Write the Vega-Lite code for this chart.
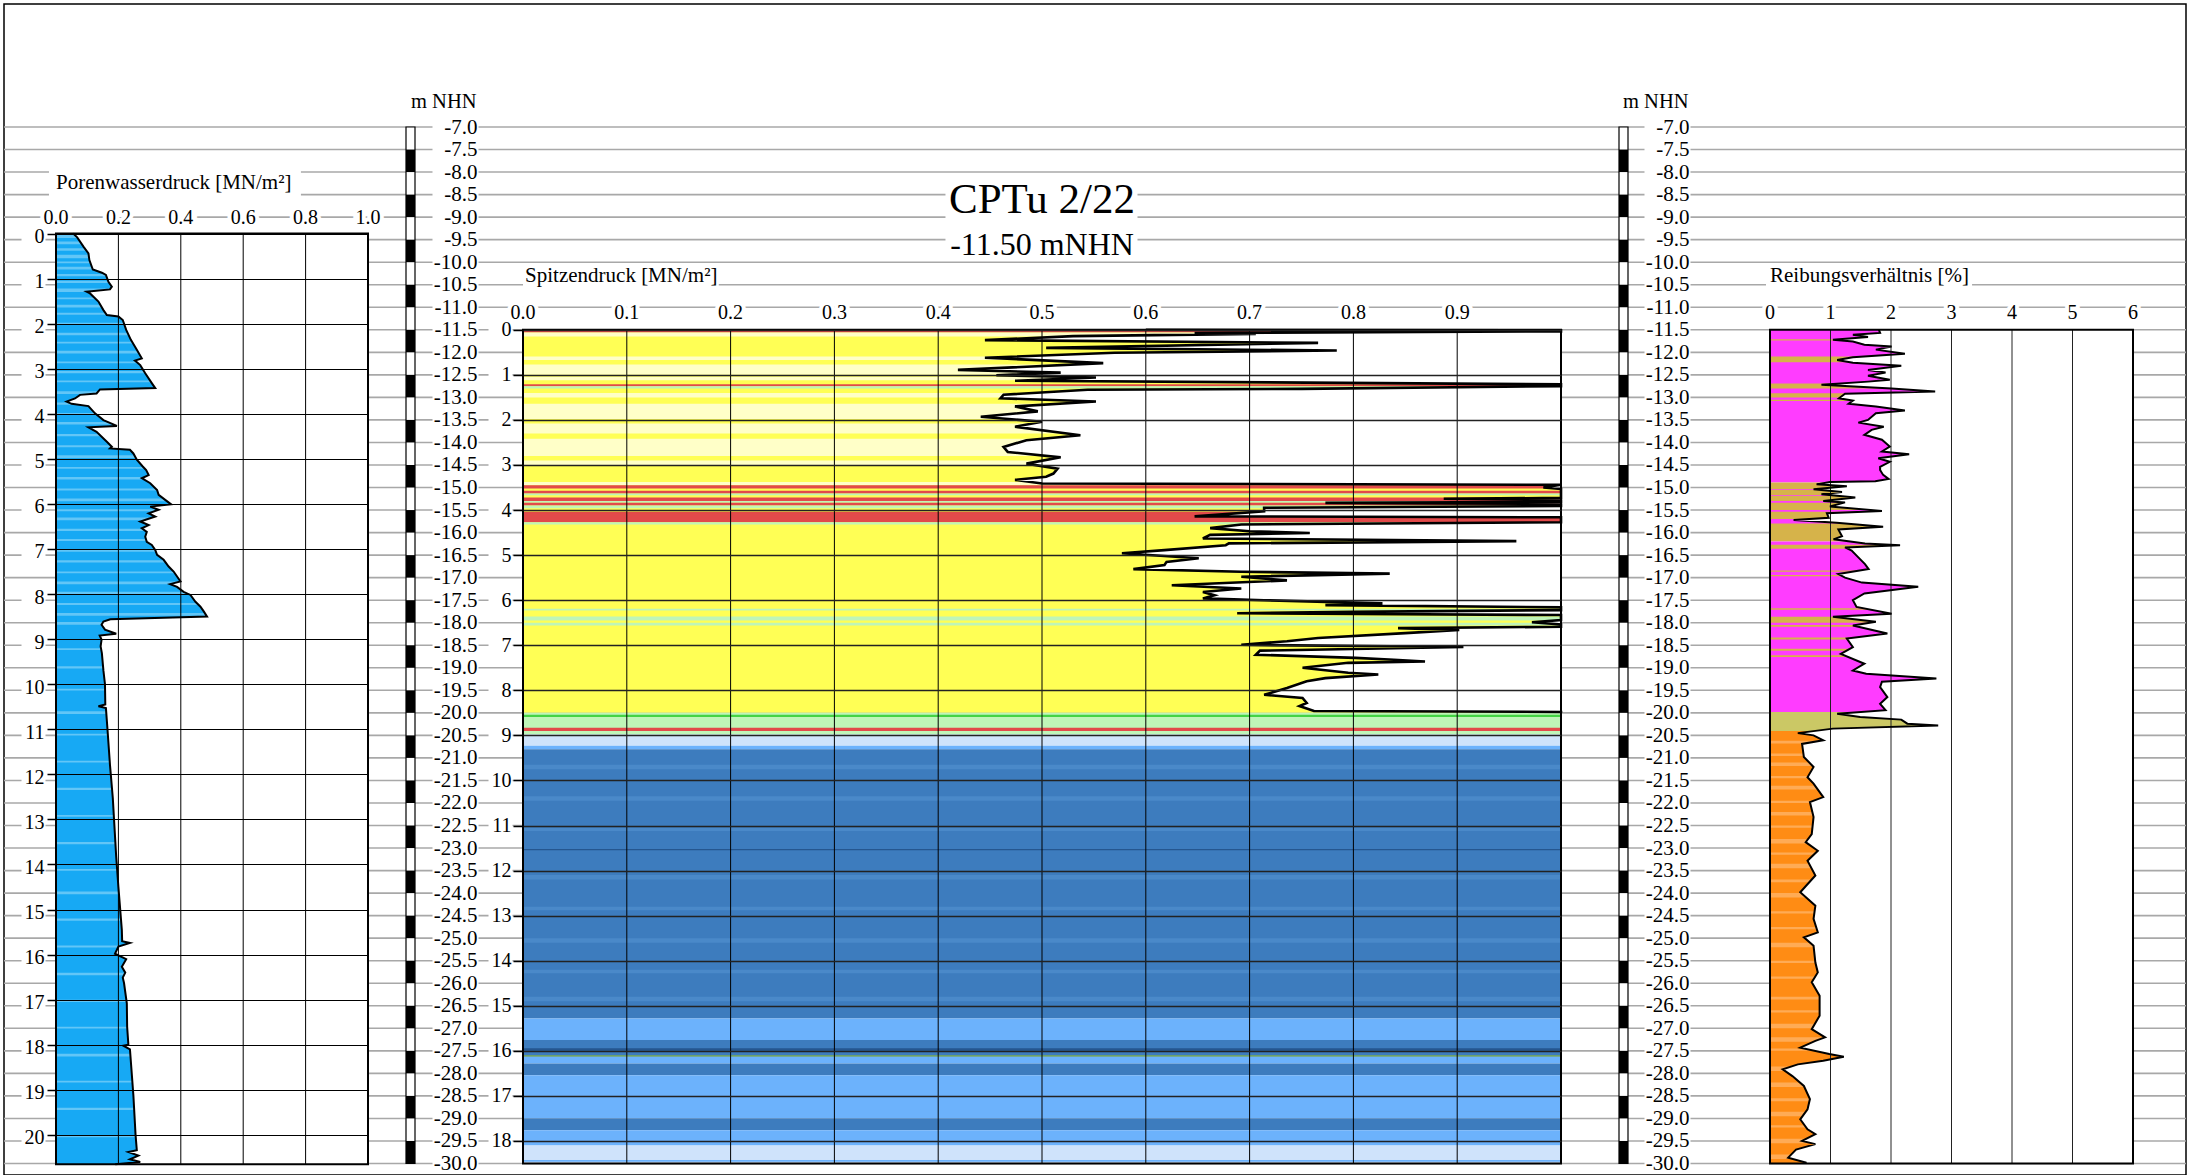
{
  "$schema": "https://vega.github.io/schema/vega-lite/v6.json",
  "width": 2182,
  "height": 1171,
  "autosize": "none",
  "padding": {"left": 4, "top": 4, "right": 4, "bottom": 0},
  "background": "white",
  "config": {
    "view": {"stroke": "black", "strokeWidth": 1.5},
    "font": "Liberation Serif",
    "axis": {"labelColor": "black", "titleColor": "black", "titleFontWeight": "normal", "labelFlush": false, "labelOverlap": false, "labelBound": false, "grid": false, "domain": false, "labelFont": "Liberation Serif", "titleFont": "Liberation Serif"}
  },
  "datasets": {
    "nhn_lines": [{"nhn":-7},{"nhn":-7.5},{"nhn":-8},{"nhn":-8.5},{"nhn":-9},{"nhn":-9.5},{"nhn":-10},{"nhn":-10.5},{"nhn":-11},{"nhn":-11.5},{"nhn":-12},{"nhn":-12.5},{"nhn":-13},{"nhn":-13.5},{"nhn":-14},{"nhn":-14.5},{"nhn":-15},{"nhn":-15.5},{"nhn":-16},{"nhn":-16.5},{"nhn":-17},{"nhn":-17.5},{"nhn":-18},{"nhn":-18.5},{"nhn":-19},{"nhn":-19.5},{"nhn":-20},{"nhn":-20.5},{"nhn":-21},{"nhn":-21.5},{"nhn":-22},{"nhn":-22.5},{"nhn":-23},{"nhn":-23.5},{"nhn":-24},{"nhn":-24.5},{"nhn":-25},{"nhn":-25.5},{"nhn":-26},{"nhn":-26.5},{"nhn":-27},{"nhn":-27.5},{"nhn":-28},{"nhn":-28.5},{"nhn":-29},{"nhn":-29.5},{"nhn":-30}],
    "scale_bar": [{"top":-7.5,"bottom":-8},{"top":-8.5,"bottom":-9},{"top":-9.5,"bottom":-10},{"top":-10.5,"bottom":-11},{"top":-11.5,"bottom":-12},{"top":-12.5,"bottom":-13},{"top":-13.5,"bottom":-14},{"top":-14.5,"bottom":-15},{"top":-15.5,"bottom":-16},{"top":-16.5,"bottom":-17},{"top":-17.5,"bottom":-18},{"top":-18.5,"bottom":-19},{"top":-19.5,"bottom":-20},{"top":-20.5,"bottom":-21},{"top":-21.5,"bottom":-22},{"top":-22.5,"bottom":-23},{"top":-23.5,"bottom":-24},{"top":-24.5,"bottom":-25},{"top":-25.5,"bottom":-26},{"top":-26.5,"bottom":-27},{"top":-27.5,"bottom":-28},{"top":-28.5,"bottom":-29},{"top":-29.5,"bottom":-30}],
    "lx_ticks": [{"v":0},{"v":0.2},{"v":0.4},{"v":0.6},{"v":0.8},{"v":1}],
    "mx_ticks": [{"v":0},{"v":0.1},{"v":0.2},{"v":0.3},{"v":0.4},{"v":0.5},{"v":0.6},{"v":0.7},{"v":0.8},{"v":0.9}],
    "rx_ticks": [{"v":0},{"v":1},{"v":2},{"v":3},{"v":4},{"v":5},{"v":6}],
    "left_bands": [{"top":0,"bottom":20.65,"cls":"B"},
      {"top":0.02,"bottom":0.1,"cls":"H"},{"top":0.18,"bottom":0.24,"cls":"H"},{"top":0.33,"bottom":0.38,"cls":"H"},{"top":0.47,"bottom":0.55,"cls":"H"},{"top":0.62,"bottom":0.66,"cls":"H"},{"top":0.74,"bottom":0.8,"cls":"H"},{"top":0.9,"bottom":0.95,"cls":"H"},{"top":1.05,"bottom":1.1,"cls":"H"},{"top":1.22,"bottom":1.3,"cls":"H"},{"top":1.42,"bottom":1.46,"cls":"H"},{"top":1.58,"bottom":1.64,"cls":"H"},{"top":1.76,"bottom":1.8,"cls":"H"},{"top":1.98,"bottom":2.03,"cls":"H"},{"top":2.2,"bottom":2.26,"cls":"H"},{"top":2.4,"bottom":2.44,"cls":"H"},{"top":2.6,"bottom":2.66,"cls":"H"},{"top":2.84,"bottom":2.88,"cls":"H"},{"top":3.05,"bottom":3.1,"cls":"H"},{"top":3.26,"bottom":3.3,"cls":"H"},{"top":3.5,"bottom":3.56,"cls":"H"},{"top":3.75,"bottom":3.8,"cls":"H"},{"top":3.98,"bottom":4.02,"cls":"H"},{"top":4.18,"bottom":4.24,"cls":"H"},{"top":4.45,"bottom":4.5,"cls":"H"},{"top":4.7,"bottom":4.74,"cls":"H"},{"top":4.92,"bottom":4.98,"cls":"H"},{"top":5.18,"bottom":5.22,"cls":"H"},{"top":5.4,"bottom":5.46,"cls":"H"},{"top":5.66,"bottom":5.7,"cls":"H"},{"top":5.88,"bottom":5.94,"cls":"H"},{"top":6.12,"bottom":6.16,"cls":"H"},{"top":6.3,"bottom":6.36,"cls":"H"},{"top":6.55,"bottom":6.6,"cls":"H"},{"top":6.78,"bottom":6.82,"cls":"H"},{"top":7.0,"bottom":7.06,"cls":"H"},{"top":7.25,"bottom":7.3,"cls":"H"},{"top":7.5,"bottom":7.54,"cls":"H"},{"top":7.72,"bottom":7.78,"cls":"H"},{"top":7.95,"bottom":8.0,"cls":"H"},{"top":8.2,"bottom":8.24,"cls":"H"},{"top":8.42,"bottom":8.48,"cls":"H"},{"top":8.62,"bottom":8.68,"cls":"H"},{"top":9.2,"bottom":9.24,"cls":"H"},{"top":9.6,"bottom":9.65,"cls":"H"},{"top":10.1,"bottom":10.14,"cls":"H"},{"top":10.6,"bottom":10.66,"cls":"H"},{"top":11.1,"bottom":11.14,"cls":"H"},{"top":11.7,"bottom":11.74,"cls":"H"},{"top":12.3,"bottom":12.35,"cls":"H"},{"top":12.9,"bottom":12.94,"cls":"H"},{"top":13.5,"bottom":13.55,"cls":"H"},{"top":14.1,"bottom":14.14,"cls":"H"},{"top":14.6,"bottom":14.66,"cls":"H"},{"top":15.2,"bottom":15.25,"cls":"H"},{"top":15.8,"bottom":15.84,"cls":"H"},{"top":16.4,"bottom":16.46,"cls":"H"},{"top":17.0,"bottom":17.05,"cls":"H"},{"top":17.6,"bottom":17.64,"cls":"H"},{"top":18.2,"bottom":18.26,"cls":"H"},{"top":18.8,"bottom":18.84,"cls":"H"},{"top":19.4,"bottom":19.45,"cls":"H"},{"top":20.0,"bottom":20.05,"cls":"H"}],
    "left_u": [{"d":0,"u":0.055},{"d":0.085,"u":0.068},{"d":0.29,"u":0.088},{"d":0.44,"u":0.104},{"d":0.59,"u":0.107},{"d":0.8,"u":0.118},{"d":0.87,"u":0.147},{"d":0.92,"u":0.16},{"d":1.07,"u":0.168},{"d":1.18,"u":0.179},{"d":1.24,"u":0.173},{"d":1.29,"u":0.098},{"d":1.33,"u":0.109},{"d":1.51,"u":0.136},{"d":1.7,"u":0.152},{"d":1.81,"u":0.163},{"d":1.84,"u":0.2},{"d":1.92,"u":0.214},{"d":2.14,"u":0.225},{"d":2.36,"u":0.24},{"d":2.58,"u":0.259},{"d":2.77,"u":0.275},{"d":2.82,"u":0.253},{"d":2.92,"u":0.27},{"d":3.1,"u":0.286},{"d":3.32,"u":0.307},{"d":3.43,"u":0.318},{"d":3.46,"u":0.141},{"d":3.55,"u":0.13},{"d":3.58,"u":0.077},{"d":3.66,"u":0.061},{"d":3.73,"u":0.034},{"d":3.78,"u":0.05},{"d":3.83,"u":0.104},{"d":3.99,"u":0.125},{"d":4.14,"u":0.152},{"d":4.27,"u":0.195},{"d":4.3,"u":0.104},{"d":4.4,"u":0.13},{"d":4.62,"u":0.163},{"d":4.73,"u":0.179},{"d":4.77,"u":0.173},{"d":4.8,"u":0.237},{"d":4.88,"u":0.248},{"d":5.02,"u":0.259},{"d":5.17,"u":0.278},{"d":5.25,"u":0.289},{"d":5.36,"u":0.297},{"d":5.43,"u":0.275},{"d":5.54,"u":0.302},{"d":5.69,"u":0.324},{"d":5.8,"u":0.329},{"d":5.91,"u":0.35},{"d":6.01,"u":0.369},{"d":6.06,"u":0.302},{"d":6.13,"u":0.329},{"d":6.21,"u":0.297},{"d":6.28,"u":0.318},{"d":6.39,"u":0.27},{"d":6.47,"u":0.297},{"d":6.54,"u":0.275},{"d":6.62,"u":0.291},{"d":6.73,"u":0.286},{"d":6.84,"u":0.291},{"d":6.91,"u":0.307},{"d":7.02,"u":0.318},{"d":7.13,"u":0.324},{"d":7.24,"u":0.345},{"d":7.39,"u":0.361},{"d":7.5,"u":0.377},{"d":7.61,"u":0.388},{"d":7.72,"u":0.399},{"d":7.78,"u":0.366},{"d":7.84,"u":0.388},{"d":7.95,"u":0.409},{"d":8.02,"u":0.431},{"d":8.17,"u":0.447},{"d":8.28,"u":0.463},{"d":8.39,"u":0.474},{"d":8.5,"u":0.484},{"d":8.56,"u":0.174},{"d":8.61,"u":0.152},{"d":8.68,"u":0.146},{"d":8.79,"u":0.157},{"d":8.88,"u":0.193},{"d":8.92,"u":0.14},{"d":9.01,"u":0.146},{"d":9.16,"u":0.143},{"d":9.31,"u":0.147},{"d":9.7,"u":0.152},{"d":10.0,"u":0.157},{"d":10.45,"u":0.158},{"d":10.49,"u":0.136},{"d":10.53,"u":0.16},{"d":11.0,"u":0.165},{"d":11.79,"u":0.173},{"d":12.52,"u":0.182},{"d":13.0,"u":0.186},{"d":13.83,"u":0.193},{"d":14.5,"u":0.2},{"d":15.45,"u":0.211},{"d":15.7,"u":0.212},{"d":15.74,"u":0.237},{"d":15.82,"u":0.2},{"d":15.98,"u":0.189},{"d":16.1,"u":0.225},{"d":16.27,"u":0.211},{"d":16.4,"u":0.222},{"d":16.51,"u":0.214},{"d":16.63,"u":0.218},{"d":17.08,"u":0.227},{"d":17.6,"u":0.228},{"d":18.0,"u":0.232},{"d":18.02,"u":0.216},{"d":18.1,"u":0.237},{"d":19.12,"u":0.248},{"d":20.0,"u":0.255},{"d":20.34,"u":0.259},{"d":20.38,"u":0.232},{"d":20.46,"u":0.264},{"d":20.54,"u":0.237},{"d":20.6,"u":0.27},{"d":20.65,"u":0.19}],
    "mid_bands": [{"top":-11.5,"bottom":-20.0,"cls":"Y"},{"top":-20.0,"bottom":-20.48,"cls":"LG"},{"top":-20.48,"bottom":-20.73,"cls":"LB"},{"top":-20.73,"bottom":-20.81,"cls":"MB"},{"top":-20.81,"bottom":-26.78,"cls":"DB"},{"top":-26.78,"bottom":-27.26,"cls":"MB"},{"top":-27.26,"bottom":-27.6,"cls":"DB"},{"top":-27.6,"bottom":-27.63,"cls":"G2"},{"top":-27.63,"bottom":-27.78,"cls":"MB"},{"top":-27.78,"bottom":-28.04,"cls":"DB"},{"top":-28.04,"bottom":-29.0,"cls":"MB"},{"top":-29.0,"bottom":-29.26,"cls":"DB"},{"top":-29.26,"bottom":-29.6,"cls":"MB"},{"top":-29.6,"bottom":-30.0,"cls":"LB"},
      {"top":-11.5,"bottom":-11.56,"cls":"R"},{"top":-11.56,"bottom":-11.65,"cls":"LY"},{"top":-12.09,"bottom":-12.17,"cls":"LY"},{"top":-12.27,"bottom":-12.5,"cls":"LY"},{"top":-12.54,"bottom":-12.62,"cls":"LY"},{"top":-12.71,"bottom":-12.75,"cls":"R"},{"top":-12.75,"bottom":-12.8,"cls":"LG"},{"top":-12.9,"bottom":-13.0,"cls":"LY"},{"top":-13.14,"bottom":-13.48,"cls":"LY"},{"top":-13.58,"bottom":-13.8,"cls":"LY"},{"top":-13.92,"bottom":-14.3,"cls":"LY"},{"top":-14.4,"bottom":-14.52,"cls":"LY"},{"top":-14.88,"bottom":-14.95,"cls":"LY"},{"top":-14.95,"bottom":-15.02,"cls":"R"},{"top":-15.07,"bottom":-15.13,"cls":"R"},{"top":-15.13,"bottom":-15.17,"cls":"LG"},{"top":-15.22,"bottom":-15.3,"cls":"R"},{"top":-15.3,"bottom":-15.34,"cls":"LG"},{"top":-15.34,"bottom":-15.4,"cls":"R"},{"top":-15.4,"bottom":-15.46,"cls":"LG"},{"top":-15.54,"bottom":-15.77,"cls":"R"},{"top":-15.77,"bottom":-15.82,"cls":"LG"},{"top":-17.69,"bottom":-17.73,"cls":"LG"},{"top":-17.86,"bottom":-17.95,"cls":"LG"},{"top":-18.0,"bottom":-18.06,"cls":"LG"},{"top":-20.04,"bottom":-20.09,"cls":"G"},{"top":-20.33,"bottom":-20.4,"cls":"R"},{"top":-23.02,"bottom":-23.05,"cls":"NB"},{"top":-27.44,"bottom":-27.5,"cls":"NB"},{"top":-21.15,"bottom":-21.25,"cls":"DB2"},{"top":-21.85,"bottom":-21.95,"cls":"DB2"},{"top":-22.55,"bottom":-22.62,"cls":"DB2"},{"top":-23.6,"bottom":-23.7,"cls":"DB2"},{"top":-24.3,"bottom":-24.38,"cls":"DB2"},{"top":-25.0,"bottom":-25.1,"cls":"DB2"},{"top":-25.7,"bottom":-25.78,"cls":"DB2"},{"top":-26.3,"bottom":-26.4,"cls":"DB2"},{"top":-29.92,"bottom":-29.96,"cls":"MB"}],
    "qc": [{"nhn":-11.5,"qc":0.6},{"nhn":-11.51,"qc":1.2},{"nhn":-11.535,"qc":1.2},{"nhn":-11.57,"qc":0.647},{"nhn":-11.59,"qc":0.706},{"nhn":-11.64,"qc":0.53},{"nhn":-11.73,"qc":0.445},{"nhn":-11.79,"qc":0.766},{"nhn":-11.9,"qc":0.504},{"nhn":-11.96,"qc":0.784},{"nhn":-12.01,"qc":0.57},{"nhn":-12.12,"qc":0.445},{"nhn":-12.24,"qc":0.559},{"nhn":-12.39,"qc":0.419},{"nhn":-12.45,"qc":0.518},{"nhn":-12.51,"qc":0.456},{"nhn":-12.56,"qc":0.552},{"nhn":-12.63,"qc":0.474},{"nhn":-12.71,"qc":1.2},{"nhn":-12.75,"qc":1.2},{"nhn":-12.81,"qc":0.75},{"nhn":-12.83,"qc":0.544},{"nhn":-12.94,"qc":0.463},{"nhn":-13.02,"qc":0.46},{"nhn":-13.09,"qc":0.552},{"nhn":-13.2,"qc":0.474},{"nhn":-13.31,"qc":0.496},{"nhn":-13.43,"qc":0.441},{"nhn":-13.54,"qc":0.5},{"nhn":-13.65,"qc":0.474},{"nhn":-13.84,"qc":0.537},{"nhn":-13.95,"qc":0.485},{"nhn":-14.1,"qc":0.463},{"nhn":-14.21,"qc":0.467},{"nhn":-14.33,"qc":0.518},{"nhn":-14.47,"qc":0.485},{"nhn":-14.58,"qc":0.515},{"nhn":-14.69,"qc":0.511},{"nhn":-14.76,"qc":0.504},{"nhn":-14.83,"qc":0.474},{"nhn":-14.91,"qc":0.5},{"nhn":-14.94,"qc":1.2},{"nhn":-15.0,"qc":0.983},{"nhn":-15.03,"qc":1.2},{"nhn":-15.23,"qc":1.2},{"nhn":-15.25,"qc":0.887},{"nhn":-15.27,"qc":1.2},{"nhn":-15.32,"qc":1.2},{"nhn":-15.34,"qc":0.773},{"nhn":-15.36,"qc":1.2},{"nhn":-15.41,"qc":1.2},{"nhn":-15.45,"qc":0.714},{"nhn":-15.53,"qc":0.714},{"nhn":-15.64,"qc":0.647},{"nhn":-15.66,"qc":1.2},{"nhn":-15.77,"qc":1.2},{"nhn":-15.82,"qc":0.692},{"nhn":-15.9,"qc":0.662},{"nhn":-15.97,"qc":0.7},{"nhn":-16.01,"qc":0.758},{"nhn":-16.05,"qc":0.662},{"nhn":-16.13,"qc":0.655},{"nhn":-16.19,"qc":0.957},{"nhn":-16.24,"qc":0.68},{"nhn":-16.28,"qc":0.677},{"nhn":-16.39,"qc":0.618},{"nhn":-16.46,"qc":0.577},{"nhn":-16.57,"qc":0.651},{"nhn":-16.65,"qc":0.62},{"nhn":-16.72,"qc":0.618},{"nhn":-16.81,"qc":0.588},{"nhn":-16.87,"qc":0.692},{"nhn":-16.91,"qc":0.835},{"nhn":-16.98,"qc":0.692},{"nhn":-17.06,"qc":0.736},{"nhn":-17.17,"qc":0.625},{"nhn":-17.24,"qc":0.692},{"nhn":-17.32,"qc":0.655},{"nhn":-17.39,"qc":0.666},{"nhn":-17.46,"qc":0.655},{"nhn":-17.5,"qc":0.714},{"nhn":-17.57,"qc":0.828},{"nhn":-17.61,"qc":0.773},{"nhn":-17.66,"qc":1.2},{"nhn":-17.72,"qc":1.2},{"nhn":-17.76,"qc":0.8},{"nhn":-17.79,"qc":0.688},{"nhn":-17.83,"qc":1.2},{"nhn":-17.94,"qc":1.2},{"nhn":-17.99,"qc":0.972},{"nhn":-18.04,"qc":1.2},{"nhn":-18.09,"qc":1.2},{"nhn":-18.12,"qc":0.843},{"nhn":-18.16,"qc":0.902},{"nhn":-18.23,"qc":0.85},{"nhn":-18.34,"qc":0.766},{"nhn":-18.41,"qc":0.736},{"nhn":-18.49,"qc":0.692},{"nhn":-18.54,"qc":0.906},{"nhn":-18.62,"qc":0.71},{"nhn":-18.71,"qc":0.706},{"nhn":-18.78,"qc":0.802},{"nhn":-18.82,"qc":0.839},{"nhn":-18.86,"qc":0.869},{"nhn":-18.89,"qc":0.795},{"nhn":-19.0,"qc":0.751},{"nhn":-19.11,"qc":0.795},{"nhn":-19.15,"qc":0.824},{"nhn":-19.23,"qc":0.773},{"nhn":-19.3,"qc":0.755},{"nhn":-19.45,"qc":0.736},{"nhn":-19.6,"qc":0.714},{"nhn":-19.67,"qc":0.751},{"nhn":-19.78,"qc":0.755},{"nhn":-19.85,"qc":0.748},{"nhn":-19.96,"qc":0.762},{"nhn":-19.98,"qc":1.2},{"nhn":-20.0,"qc":1.2}],
    "right_bands": [{"top":-11.5,"bottom":-14.89,"cls":"M"},{"top":-14.89,"bottom":-16.2,"cls":"GO"},{"top":-16.2,"bottom":-19.98,"cls":"M"},{"top":-19.98,"bottom":-20.4,"cls":"OL"},{"top":-20.4,"bottom":-30.0,"cls":"OR"},
      {"top":-11.71,"bottom":-11.74,"cls":"GO"},{"top":-12.09,"bottom":-12.22,"cls":"GO"},{"top":-12.69,"bottom":-12.8,"cls":"GO"},{"top":-12.91,"bottom":-13.0,"cls":"GO"},{"top":-13.05,"bottom":-13.08,"cls":"GO"},
      {"top":-15.03,"bottom":-15.05,"cls":"M"},{"top":-15.17,"bottom":-15.19,"cls":"M"},{"top":-15.3,"bottom":-15.34,"cls":"M"},{"top":-15.5,"bottom":-15.54,"cls":"M"},{"top":-15.7,"bottom":-15.8,"cls":"M"},
      {"top":-16.27,"bottom":-16.36,"cls":"GO"},{"top":-16.84,"bottom":-16.87,"cls":"GO"},{"top":-16.94,"bottom":-16.97,"cls":"GO"},{"top":-17.68,"bottom":-17.71,"cls":"GO"},{"top":-17.87,"bottom":-18.0,"cls":"GO"},{"top":-18.05,"bottom":-18.09,"cls":"GO"},{"top":-18.33,"bottom":-18.37,"cls":"GO"},{"top":-18.58,"bottom":-18.62,"cls":"GO"},{"top":-18.72,"bottom":-18.76,"cls":"GO"},
      {"top":-20.62,"bottom":-20.68,"cls":"LO"},{"top":-20.9,"bottom":-20.96,"cls":"LO"},{"top":-21.1,"bottom":-21.18,"cls":"LO"},{"top":-21.4,"bottom":-21.45,"cls":"LO"},{"top":-21.62,"bottom":-21.7,"cls":"LO"},{"top":-21.95,"bottom":-22.0,"cls":"LO"},{"top":-22.2,"bottom":-22.28,"cls":"LO"},{"top":-22.5,"bottom":-22.55,"cls":"LO"},{"top":-22.8,"bottom":-22.9,"cls":"LO"},{"top":-23.1,"bottom":-23.15,"cls":"LO"},{"top":-23.35,"bottom":-23.45,"cls":"LO"},{"top":-23.7,"bottom":-23.76,"cls":"LO"},{"top":-24.0,"bottom":-24.1,"cls":"LO"},{"top":-24.4,"bottom":-24.45,"cls":"LO"},{"top":-24.75,"bottom":-24.8,"cls":"LO"},{"top":-25.1,"bottom":-25.2,"cls":"LO"},{"top":-25.5,"bottom":-25.55,"cls":"LO"},{"top":-25.85,"bottom":-25.9,"cls":"LO"},{"top":-26.3,"bottom":-26.36,"cls":"LO"},{"top":-26.6,"bottom":-26.65,"cls":"LO"},{"top":-26.9,"bottom":-27.0,"cls":"LO"},{"top":-27.2,"bottom":-27.3,"cls":"LO"},{"top":-27.45,"bottom":-27.5,"cls":"LO"},{"top":-27.85,"bottom":-27.95,"cls":"LO"},{"top":-28.2,"bottom":-28.3,"cls":"LO"},{"top":-28.55,"bottom":-28.62,"cls":"LO"},{"top":-28.85,"bottom":-28.95,"cls":"LO"},{"top":-29.15,"bottom":-29.2,"cls":"LO"},{"top":-29.45,"bottom":-29.55,"cls":"LO"},{"top":-29.8,"bottom":-29.9,"cls":"LO"}],
    "rf": [{"nhn":-11.5,"rf":1.8},{"nhn":-11.57,"rf":1.82},{"nhn":-11.61,"rf":1.37},{"nhn":-11.66,"rf":1.62},{"nhn":-11.72,"rf":1.04},{"nhn":-11.76,"rf":1.37},{"nhn":-11.83,"rf":1.56},{"nhn":-11.87,"rf":2.01},{"nhn":-11.94,"rf":1.75},{"nhn":-12.03,"rf":2.23},{"nhn":-12.11,"rf":1.37},{"nhn":-12.17,"rf":1.11},{"nhn":-12.23,"rf":1.37},{"nhn":-12.3,"rf":2.17},{"nhn":-12.39,"rf":1.62},{"nhn":-12.45,"rf":1.91},{"nhn":-12.52,"rf":1.62},{"nhn":-12.61,"rf":1.98},{"nhn":-12.65,"rf":1.62},{"nhn":-12.72,"rf":0.85},{"nhn":-12.8,"rf":2.01},{"nhn":-12.87,"rf":2.73},{"nhn":-12.92,"rf":1.24},{"nhn":-13.02,"rf":1.14},{"nhn":-13.07,"rf":1.37},{"nhn":-13.14,"rf":1.3},{"nhn":-13.2,"rf":1.75},{"nhn":-13.29,"rf":2.23},{"nhn":-13.35,"rf":1.75},{"nhn":-13.5,"rf":1.62},{"nhn":-13.56,"rf":1.46},{"nhn":-13.65,"rf":1.88},{"nhn":-13.72,"rf":1.68},{"nhn":-13.83,"rf":1.56},{"nhn":-13.94,"rf":1.85},{"nhn":-14.09,"rf":1.98},{"nhn":-14.2,"rf":1.85},{"nhn":-14.26,"rf":2.3},{"nhn":-14.35,"rf":1.79},{"nhn":-14.43,"rf":1.98},{"nhn":-14.54,"rf":1.82},{"nhn":-14.61,"rf":1.82},{"nhn":-14.72,"rf":1.87},{"nhn":-14.81,"rf":1.96},{"nhn":-14.86,"rf":1.74},{"nhn":-14.88,"rf":0.99},{"nhn":-14.93,"rf":0.77},{"nhn":-14.97,"rf":1.27},{"nhn":-15.04,"rf":0.72},{"nhn":-15.1,"rf":1.19},{"nhn":-15.15,"rf":0.85},{"nhn":-15.22,"rf":1.41},{"nhn":-15.3,"rf":0.88},{"nhn":-15.33,"rf":1.24},{"nhn":-15.42,"rf":0.99},{"nhn":-15.52,"rf":1.85},{"nhn":-15.57,"rf":0.94},{"nhn":-15.67,"rf":0.97},{"nhn":-15.72,"rf":0.39},{"nhn":-15.78,"rf":1.1},{"nhn":-15.87,"rf":1.87},{"nhn":-15.93,"rf":1.13},{"nhn":-16.08,"rf":1.19},{"nhn":-16.15,"rf":1.05},{"nhn":-16.24,"rf":1.57},{"nhn":-16.28,"rf":2.15},{"nhn":-16.33,"rf":1.24},{"nhn":-16.4,"rf":1.35},{"nhn":-16.55,"rf":1.46},{"nhn":-16.7,"rf":1.57},{"nhn":-16.81,"rf":1.63},{"nhn":-16.92,"rf":1.13},{"nhn":-17.0,"rf":1.24},{"nhn":-17.11,"rf":1.52},{"nhn":-17.2,"rf":2.45},{"nhn":-17.35,"rf":1.56},{"nhn":-17.5,"rf":1.37},{"nhn":-17.65,"rf":1.43},{"nhn":-17.8,"rf":2.01},{"nhn":-17.87,"rf":1.04},{"nhn":-17.98,"rf":1.75},{"nhn":-18.06,"rf":1.37},{"nhn":-18.24,"rf":1.94},{"nhn":-18.35,"rf":1.27},{"nhn":-18.54,"rf":1.37},{"nhn":-18.69,"rf":1.17},{"nhn":-18.91,"rf":1.56},{"nhn":-19.06,"rf":1.37},{"nhn":-19.13,"rf":1.59},{"nhn":-19.24,"rf":2.75},{"nhn":-19.31,"rf":1.85},{"nhn":-19.43,"rf":1.82},{"nhn":-19.65,"rf":1.94},{"nhn":-19.8,"rf":1.82},{"nhn":-19.94,"rf":1.91},{"nhn":-20.02,"rf":1.11},{"nhn":-20.09,"rf":1.49},{"nhn":-20.15,"rf":2.17},{"nhn":-20.24,"rf":2.27},{"nhn":-20.28,"rf":2.78},{"nhn":-20.35,"rf":1.04},{"nhn":-20.45,"rf":0.46},{"nhn":-20.5,"rf":0.72},{"nhn":-20.61,"rf":0.88},{"nhn":-20.69,"rf":0.53},{"nhn":-20.98,"rf":0.56},{"nhn":-21.2,"rf":0.72},{"nhn":-21.43,"rf":0.62},{"nhn":-21.57,"rf":0.72},{"nhn":-21.87,"rf":0.88},{"nhn":-21.98,"rf":0.66},{"nhn":-22.31,"rf":0.72},{"nhn":-22.69,"rf":0.69},{"nhn":-22.87,"rf":0.59},{"nhn":-23.06,"rf":0.79},{"nhn":-23.28,"rf":0.62},{"nhn":-23.61,"rf":0.75},{"nhn":-23.98,"rf":0.5},{"nhn":-24.28,"rf":0.75},{"nhn":-24.57,"rf":0.72},{"nhn":-24.87,"rf":0.79},{"nhn":-24.98,"rf":0.56},{"nhn":-25.17,"rf":0.72},{"nhn":-25.54,"rf":0.75},{"nhn":-25.76,"rf":0.79},{"nhn":-25.98,"rf":0.69},{"nhn":-26.28,"rf":0.82},{"nhn":-26.72,"rf":0.82},{"nhn":-27.02,"rf":0.69},{"nhn":-27.2,"rf":0.91},{"nhn":-27.28,"rf":0.75},{"nhn":-27.43,"rf":0.5},{"nhn":-27.57,"rf":0.98},{"nhn":-27.63,"rf":1.22},{"nhn":-27.72,"rf":0.88},{"nhn":-27.8,"rf":0.46},{"nhn":-27.91,"rf":0.21},{"nhn":-28.06,"rf":0.37},{"nhn":-28.28,"rf":0.56},{"nhn":-28.57,"rf":0.66},{"nhn":-28.8,"rf":0.62},{"nhn":-29.02,"rf":0.5},{"nhn":-29.24,"rf":0.62},{"nhn":-29.35,"rf":0.75},{"nhn":-29.5,"rf":0.53},{"nhn":-29.57,"rf":0.75},{"nhn":-29.69,"rf":0.43},{"nhn":-29.87,"rf":0.3},{"nhn":-29.98,"rf":0.59},{"nhn":-30.0,"rf":0.59}]
  },
  "layer": [
    {
      "layer": [
        {
          "data": {"name": "nhn_lines"},
          "mark": {"type": "rule", "color": "#a8a8a8", "strokeWidth": 1.6},
          "encoding": {
            "y": {"field": "nhn", "type": "quantitative", "scale": {"domain": [-30, -7], "range": [1159.5, 123], "nice": false, "zero": false},
              "axis": {"orient": "left", "offset": -474, "values": [-7,-7.5,-8,-8.5,-9,-9.5,-10,-10.5,-11,-11.5,-12,-12.5,-13,-13.5,-14,-14.5,-15,-15.5,-16,-16.5,-17,-17.5,-18,-18.5,-19,-19.5,-20,-20.5,-21,-21.5,-22,-22.5,-23,-23.5,-24,-24.5,-25,-25.5,-26,-26.5,-27,-27.5,-28,-28.5,-29,-29.5,-30],
                "labelExpr": "replace(format(datum.value, '.1f'), '−', '-')", "domain": false, "grid": false, "ticks": true, "tickColor": "white", "tickSize": 46, "tickWidth": 18, "labelPadding": -45, "labelFontSize": 21, "labelAlign": "right", "labelBaseline": "middle",
                "title": "m NHN", "titleX": -2, "titleY": 103, "titleAngle": 0, "titleAlign": "right", "titleBaseline": "alphabetic", "titleFontSize": 20.5, "zindex": 1}}
          }
        },
        {
          "data": {"values": [{}]},
          "mark": {"type": "rect", "fill": "white", "stroke": "black", "strokeWidth": 1.2},
          "encoding": {
            "x": {"datum": 0, "type": "quantitative", "scale": {"domain": [0, 1], "range": [402, 411]}, "axis": null},
            "x2": {"datum": 1},
            "y": {"datum": -7, "type": "quantitative", "scale": {"domain": [-30, -7], "range": [1159.5, 123], "nice": false, "zero": false}, "axis": null},
            "y2": {"datum": -30}
          }
        },
        {
          "data": {"name": "scale_bar"},
          "mark": {"type": "rect", "fill": "black"},
          "encoding": {
            "x": {"datum": 0, "type": "quantitative", "scale": {"domain": [0, 1], "range": [402, 411]}, "axis": null},
            "x2": {"datum": 1},
            "y": {"field": "top", "type": "quantitative", "scale": {"domain": [-30, -7], "range": [1159.5, 123], "nice": false, "zero": false}, "axis": null},
            "y2": {"field": "bottom"}
          }
        },
        {
          "data": {"values": [{}]},
          "mark": {"type": "rect", "fill": "white", "stroke": "black", "strokeWidth": 1.2},
          "encoding": {
            "x": {"datum": 0, "type": "quantitative", "scale": {"domain": [0, 1], "range": [1615, 1624]}, "axis": null},
            "x2": {"datum": 1},
            "y": {"datum": -7, "type": "quantitative", "scale": {"domain": [-30, -7], "range": [1159.5, 123], "nice": false, "zero": false}, "axis": null},
            "y2": {"datum": -30}
          }
        },
        {
          "data": {"name": "scale_bar"},
          "mark": {"type": "rect", "fill": "black"},
          "encoding": {
            "x": {"datum": 0, "type": "quantitative", "scale": {"domain": [0, 1], "range": [1615, 1624]}, "axis": null},
            "x2": {"datum": 1},
            "y": {"field": "top", "type": "quantitative", "scale": {"domain": [-30, -7], "range": [1159.5, 123], "nice": false, "zero": false},
              "axis": {"orient": "left", "offset": -1686, "values": [-7,-7.5,-8,-8.5,-9,-9.5,-10,-10.5,-11,-11.5,-12,-12.5,-13,-13.5,-14,-14.5,-15,-15.5,-16,-16.5,-17,-17.5,-18,-18.5,-19,-19.5,-20,-20.5,-21,-21.5,-22,-22.5,-23,-23.5,-24,-24.5,-25,-25.5,-26,-26.5,-27,-27.5,-28,-28.5,-29,-29.5,-30],
                "labelExpr": "replace(format(datum.value, '.1f'), '−', '-')", "domain": false, "grid": false, "ticks": true, "tickColor": "white", "tickSize": 46, "tickWidth": 18, "labelPadding": -45, "labelFontSize": 21, "labelAlign": "right", "labelBaseline": "middle",
                "title": "m NHN", "titleX": -2, "titleY": 103, "titleAngle": 0, "titleAlign": "right", "titleBaseline": "alphabetic", "titleFontSize": 20.5, "zindex": 1}},
            "y2": {"field": "bottom"}
          }
        }
      ],
      "resolve": {"scale": {"x": "independent"}, "axis": {"y": "independent"}}
    },
    {
      "layer": [
        {
          "data": {"name": "left_bands"},
          "mark": {"type": "rect"},
          "encoding": {
            "x": {"datum": 0, "type": "quantitative", "scale": {"domain": [0, 1], "range": [52, 364], "nice": false, "zero": false}, "axis": null},
            "x2": {"datum": 1},
            "y": {"field": "top", "type": "quantitative", "scale": {"domain": [0, 20.65], "range": [229.5, 1160.2], "nice": false, "zero": false},
              "axis": {"orient": "left", "offset": -41, "values": [0,1,2,3,4,5,6,7,8,9,10,11,12,13,14,15,16,17,18,19,20], "format": "d", "domain": false, "ticks": true, "tickColor": "white", "tickSize": 24, "tickWidth": 20, "labelPadding": -23, "labelOffset": 3, "labelFontSize": 20, "labelAlign": "right", "labelBaseline": "middle", "grid": false, "title": null, "zindex": 1}},
            "y2": {"field": "bottom"},
            "color": {"field": "cls", "type": "nominal", "scale": {"domain": ["B", "H"], "range": ["#17a9f4", "#62c6f7"]}, "legend": null}
          }
        },
        {
          "data": {"name": "left_u"},
          "mark": {"type": "area", "orient": "horizontal", "fill": "white", "opacity": 1},
          "encoding": {
            "y": {"field": "d", "type": "quantitative", "scale": {"domain": [0, 20.65], "range": [229.5, 1160.2], "nice": false, "zero": false}, "axis": null},
            "x": {"field": "u", "type": "quantitative", "scale": {"domain": [0, 1], "range": [52, 364], "nice": false, "zero": false}, "axis": null},
            "x2": {"datum": 1}
          }
        },
        {
          "data": {"name": "lx_ticks"},
          "mark": {"type": "rule", "color": "black", "strokeWidth": 1},
          "encoding": {
            "x": {"field": "v", "type": "quantitative", "scale": {"domain": [0, 1], "range": [52, 364], "nice": false, "zero": false}, "axis": null},
            "y": {"datum": 0, "type": "quantitative", "scale": {"domain": [0, 20.65], "range": [229.5, 1160.2], "nice": false, "zero": false}, "axis": null},
            "y2": {"datum": 20.65}
          }
        },
        {
          "data": {"name": "left_u"},
          "mark": {"type": "line", "color": "black", "strokeWidth": 2},
          "encoding": {
            "y": {"field": "d", "type": "quantitative", "scale": {"domain": [0, 20.65], "range": [229.5, 1160.2], "nice": false, "zero": false}, "axis": null},
            "x": {"field": "u", "type": "quantitative", "scale": {"domain": [0, 1], "range": [52, 364], "nice": false, "zero": false}, "axis": null},
            "order": {"value": null}
          }
        },
        {
          "data": {"values": [{}]},
          "mark": {"type": "rect", "fill": "white"},
          "encoding": {
            "x": {"datum": -0.0225, "type": "quantitative", "scale": {"domain": [0, 1], "range": [52, 364], "nice": false, "zero": false}, "axis": null},
            "x2": {"datum": 0.785},
            "y": {"datum": -1.476, "type": "quantitative", "scale": {"domain": [0, 20.65], "range": [229.5, 1160.2], "nice": false, "zero": false}, "axis": null},
            "y2": {"datum": -0.765}
          }
        },
        {
          "data": {"values": [{}]},
          "mark": {"type": "text", "text": "Porenwasserdruck [MN/m²]", "align": "left", "baseline": "alphabetic", "fontSize": 21, "color": "black"},
          "encoding": {
            "x": {"datum": 0, "type": "quantitative", "scale": {"domain": [0, 1], "range": [52, 364], "nice": false, "zero": false}, "axis": null},
            "y": {"datum": -0.987, "type": "quantitative", "scale": {"domain": [0, 20.65], "range": [229.5, 1160.2], "nice": false, "zero": false}, "axis": null}
          }
        },
        {
          "data": {"name": "lx_ticks"},
          "mark": {"type": "text", "align": "center", "baseline": "middle", "fontSize": 20, "color": "white", "stroke": "white", "strokeWidth": 8},
          "encoding": {
            "x": {"field": "v", "type": "quantitative", "scale": {"domain": [0, 1], "range": [52, 364], "nice": false, "zero": false}, "axis": null},
            "y": {"datum": -0.344, "type": "quantitative", "scale": {"domain": [0, 20.65], "range": [229.5, 1160.2], "nice": false, "zero": false}, "axis": null},
            "text": {"field": "v", "type": "quantitative", "format": ".1f"}
          }
        },
        {
          "data": {"name": "lx_ticks"},
          "mark": {"type": "text", "align": "center", "baseline": "middle", "fontSize": 20, "color": "black"},
          "encoding": {
            "x": {"field": "v", "type": "quantitative", "scale": {"domain": [0, 1], "range": [52, 364], "nice": false, "zero": false}, "axis": null},
            "y": {"datum": -0.344, "type": "quantitative", "scale": {"domain": [0, 20.65], "range": [229.5, 1160.2], "nice": false, "zero": false}, "axis": null},
            "text": {"field": "v", "type": "quantitative", "format": ".1f"}
          }
        },
        {
          "data": {"values": [{}]},
          "mark": {"type": "rect", "filled": false, "color": "black", "strokeWidth": 2},
          "encoding": {
            "x": {"datum": 0, "type": "quantitative", "scale": {"domain": [0, 1], "range": [52, 364], "nice": false, "zero": false}, "axis": null},
            "x2": {"datum": 1},
            "y": {"datum": 0, "type": "quantitative", "scale": {"domain": [0, 20.65], "range": [229.5, 1160.2], "nice": false, "zero": false},
              "axis": {"orient": "left", "offset": -52, "values": [0,1,2,3,4,5,6,7,8,9,10,11,12,13,14,15,16,17,18,19,20], "domain": false, "labels": false, "ticks": true, "tickColor": "black", "tickSize": 9, "tickWidth": 1.5, "grid": true, "gridColor": "black", "gridWidth": 1, "title": null, "zindex": 1}},
            "y2": {"datum": 20.65}
          }
        }
      ],
      "resolve": {"axis": {"y": "independent"}}
    },
    {
      "layer": [
        {
          "data": {"name": "mid_bands"},
          "mark": {"type": "rect"},
          "encoding": {
            "x": {"datum": 0, "type": "quantitative", "scale": {"domain": [0, 1], "range": [519, 1557], "nice": false, "zero": false, "clamp": true}, "axis": null},
            "x2": {"datum": 1},
            "y": {"field": "top", "type": "quantitative", "scale": {"domain": [-30, -11.5], "range": [1159.5, 325.8], "nice": false, "zero": false},
              "axis": {"orient": "left", "offset": -508, "values": [-11.5,-12.5,-13.5,-14.5,-15.5,-16.5,-17.5,-18.5,-19.5,-20.5,-21.5,-22.5,-23.5,-24.5,-25.5,-26.5,-27.5,-28.5,-29.5], "labelExpr": "'' + round(-11.5 - datum.value)", "domain": false, "ticks": true, "tickColor": "white", "tickSize": 24, "tickWidth": 20, "labelPadding": -23, "labelFontSize": 20, "labelAlign": "right", "labelBaseline": "middle", "grid": false, "title": null, "zindex": 1}},
            "y2": {"field": "bottom"},
            "color": {"field": "cls", "type": "nominal", "scale": {"domain": ["Y", "LY", "R", "LG", "G", "LB", "MB", "DB", "DB2", "NB", "G2"], "range": ["#ffff55", "#ffffc8", "#e24a4a", "#bff5b8", "#44d444", "#cfe3fb", "#6cb2fc", "#3d7cbe", "#4a89c9", "#25568f", "#4d8a3c"]}, "legend": null}
          }
        },
        {
          "data": {"name": "qc"},
          "mark": {"type": "area", "orient": "horizontal", "fill": "white", "opacity": 1},
          "encoding": {
            "y": {"field": "nhn", "type": "quantitative", "scale": {"domain": [-30, -11.5], "range": [1159.5, 325.8], "nice": false, "zero": false}, "axis": null},
            "x": {"field": "qc", "type": "quantitative", "scale": {"domain": [0, 1], "range": [519, 1557], "nice": false, "zero": false, "clamp": true}, "axis": null},
            "x2": {"datum": 1}
          }
        },
        {
          "data": {"name": "mx_ticks"},
          "mark": {"type": "rule", "color": "black", "strokeWidth": 1},
          "encoding": {
            "x": {"field": "v", "type": "quantitative", "scale": {"domain": [0, 1], "range": [519, 1557], "nice": false, "zero": false, "clamp": true}, "axis": null},
            "y": {"datum": -11.5, "type": "quantitative", "scale": {"domain": [-30, -11.5], "range": [1159.5, 325.8], "nice": false, "zero": false}, "axis": null},
            "y2": {"datum": -30}
          }
        },
        {
          "data": {"name": "qc"},
          "mark": {"type": "line", "color": "black", "strokeWidth": 2.6},
          "encoding": {
            "y": {"field": "nhn", "type": "quantitative", "scale": {"domain": [-30, -11.5], "range": [1159.5, 325.8], "nice": false, "zero": false}, "axis": null},
            "x": {"field": "qc", "type": "quantitative", "scale": {"domain": [0, 1], "range": [519, 1557], "nice": false, "zero": false, "clamp": true}, "axis": null},
            "order": {"value": null}
          }
        },
        {
          "data": {"values": [{}]},
          "mark": {"type": "rect", "fill": "white"},
          "encoding": {
            "x": {"datum": 0.407, "type": "quantitative", "scale": {"domain": [0, 1], "range": [519, 1557], "nice": false, "zero": false, "clamp": true}, "axis": null},
            "x2": {"datum": 0.592},
            "y": {"datum": -8.178, "type": "quantitative", "scale": {"domain": [-30, -11.5], "range": [1159.5, 325.8], "nice": false, "zero": false}, "axis": null},
            "y2": {"datum": -9.931}
          }
        },
        {
          "data": {"values": [{}]},
          "mark": {"type": "rect", "fill": "white"},
          "encoding": {
            "x": {"datum": 0, "type": "quantitative", "scale": {"domain": [0, 1], "range": [519, 1557], "nice": false, "zero": false, "clamp": true}, "axis": null},
            "x2": {"datum": 0.1886},
            "y": {"datum": -10.064, "type": "quantitative", "scale": {"domain": [-30, -11.5], "range": [1159.5, 325.8], "nice": false, "zero": false}, "axis": null},
            "y2": {"datum": -10.663}
          }
        },
        {
          "data": {"values": [{}]},
          "mark": {"type": "text", "text": "CPTu 2/22", "align": "center", "baseline": "alphabetic", "fontSize": 43, "color": "black"},
          "encoding": {
            "x": {"datum": 0.5, "type": "quantitative", "scale": {"domain": [0, 1], "range": [519, 1557], "nice": false, "zero": false, "clamp": true}, "axis": null},
            "y": {"datum": -8.917, "type": "quantitative", "scale": {"domain": [-30, -11.5], "range": [1159.5, 325.8], "nice": false, "zero": false}, "axis": null}
          }
        },
        {
          "data": {"values": [{}]},
          "mark": {"type": "text", "text": "-11.50 mNHN", "align": "center", "baseline": "alphabetic", "fontSize": 32, "color": "black"},
          "encoding": {
            "x": {"datum": 0.5, "type": "quantitative", "scale": {"domain": [0, 1], "range": [519, 1557], "nice": false, "zero": false, "clamp": true}, "axis": null},
            "y": {"datum": -9.843, "type": "quantitative", "scale": {"domain": [-30, -11.5], "range": [1159.5, 325.8], "nice": false, "zero": false}, "axis": null}
          }
        },
        {
          "data": {"values": [{}]},
          "mark": {"type": "text", "text": "Spitzendruck [MN/m²]", "align": "left", "baseline": "alphabetic", "fontSize": 21, "color": "black"},
          "encoding": {
            "x": {"datum": 0.002, "type": "quantitative", "scale": {"domain": [0, 1], "range": [519, 1557], "nice": false, "zero": false, "clamp": true}, "axis": null},
            "y": {"datum": -10.435, "type": "quantitative", "scale": {"domain": [-30, -11.5], "range": [1159.5, 325.8], "nice": false, "zero": false}, "axis": null}
          }
        },
        {
          "data": {"name": "mx_ticks"},
          "mark": {"type": "text", "align": "center", "baseline": "middle", "fontSize": 20, "color": "white", "stroke": "white", "strokeWidth": 8},
          "encoding": {
            "x": {"field": "v", "type": "quantitative", "scale": {"domain": [0, 1], "range": [519, 1557], "nice": false, "zero": false, "clamp": true}, "axis": null},
            "y": {"datum": -11.127, "type": "quantitative", "scale": {"domain": [-30, -11.5], "range": [1159.5, 325.8], "nice": false, "zero": false}, "axis": null},
            "text": {"field": "v", "type": "quantitative", "format": ".1f"}
          }
        },
        {
          "data": {"name": "mx_ticks"},
          "mark": {"type": "text", "align": "center", "baseline": "middle", "fontSize": 20, "color": "black"},
          "encoding": {
            "x": {"field": "v", "type": "quantitative", "scale": {"domain": [0, 1], "range": [519, 1557], "nice": false, "zero": false, "clamp": true}, "axis": null},
            "y": {"datum": -11.127, "type": "quantitative", "scale": {"domain": [-30, -11.5], "range": [1159.5, 325.8], "nice": false, "zero": false}, "axis": null},
            "text": {"field": "v", "type": "quantitative", "format": ".1f"}
          }
        },
        {
          "data": {"values": [{}]},
          "mark": {"type": "rect", "filled": false, "color": "black", "strokeWidth": 2},
          "encoding": {
            "x": {"datum": 0, "type": "quantitative", "scale": {"domain": [0, 1], "range": [519, 1557], "nice": false, "zero": false, "clamp": true}, "axis": null},
            "x2": {"datum": 1},
            "y": {"datum": -11.5, "type": "quantitative", "scale": {"domain": [-30, -11.5], "range": [1159.5, 325.8], "nice": false, "zero": false},
              "axis": {"orient": "left", "offset": -519, "values": [-11.5,-12.5,-13.5,-14.5,-15.5,-16.5,-17.5,-18.5,-19.5,-20.5,-21.5,-22.5,-23.5,-24.5,-25.5,-26.5,-27.5,-28.5,-29.5], "domain": false, "labels": false, "ticks": true, "tickColor": "black", "tickSize": 10, "tickWidth": 1.5, "grid": true, "gridColor": "#222222", "gridWidth": 1.5, "title": null, "zindex": 1}},
            "y2": {"datum": -30}
          }
        }
      ],
      "resolve": {"axis": {"y": "independent"}}
    },
    {
      "layer": [
        {
          "data": {"name": "right_bands"},
          "mark": {"type": "rect"},
          "encoding": {
            "x": {"datum": 0, "type": "quantitative", "scale": {"domain": [0, 6], "range": [1766, 2129], "nice": false, "zero": false}, "axis": null},
            "x2": {"datum": 6},
            "y": {"field": "top", "type": "quantitative", "scale": {"domain": [-30, -11.5], "range": [1159.5, 325.8], "nice": false, "zero": false}, "axis": null},
            "y2": {"field": "bottom"},
            "color": {"field": "cls", "type": "nominal", "scale": {"domain": ["M", "GO", "OL", "OR", "LO"], "range": ["#ff3cff", "#d6b34a", "#cbc865", "#ff8c14", "#ffab55"]}, "legend": null}
          }
        },
        {
          "data": {"name": "rf"},
          "mark": {"type": "area", "orient": "horizontal", "fill": "white", "opacity": 1},
          "encoding": {
            "y": {"field": "nhn", "type": "quantitative", "scale": {"domain": [-30, -11.5], "range": [1159.5, 325.8], "nice": false, "zero": false}, "axis": null},
            "x": {"field": "rf", "type": "quantitative", "scale": {"domain": [0, 6], "range": [1766, 2129], "nice": false, "zero": false}, "axis": null},
            "x2": {"datum": 6}
          }
        },
        {
          "data": {"name": "rx_ticks"},
          "mark": {"type": "rule", "color": "#222222", "strokeWidth": 1},
          "encoding": {
            "x": {"field": "v", "type": "quantitative", "scale": {"domain": [0, 6], "range": [1766, 2129], "nice": false, "zero": false}, "axis": null},
            "y": {"datum": -11.5, "type": "quantitative", "scale": {"domain": [-30, -11.5], "range": [1159.5, 325.8], "nice": false, "zero": false}, "axis": null},
            "y2": {"datum": -30}
          }
        },
        {
          "data": {"name": "rf"},
          "mark": {"type": "line", "color": "black", "strokeWidth": 2},
          "encoding": {
            "y": {"field": "nhn", "type": "quantitative", "scale": {"domain": [-30, -11.5], "range": [1159.5, 325.8], "nice": false, "zero": false}, "axis": null},
            "x": {"field": "rf", "type": "quantitative", "scale": {"domain": [0, 6], "range": [1766, 2129], "nice": false, "zero": false}, "axis": null},
            "order": {"value": null}
          }
        },
        {
          "data": {"values": [{}]},
          "mark": {"type": "rect", "fill": "white"},
          "encoding": {
            "x": {"datum": -0.066, "type": "quantitative", "scale": {"domain": [0, 6], "range": [1766, 2129], "nice": false, "zero": false}, "axis": null},
            "x2": {"datum": 3.34},
            "y": {"datum": -10.064, "type": "quantitative", "scale": {"domain": [-30, -11.5], "range": [1159.5, 325.8], "nice": false, "zero": false}, "axis": null},
            "y2": {"datum": -10.663}
          }
        },
        {
          "data": {"values": [{}]},
          "mark": {"type": "text", "text": "Reibungsverhältnis [%]", "align": "left", "baseline": "alphabetic", "fontSize": 21, "color": "black"},
          "encoding": {
            "x": {"datum": 0, "type": "quantitative", "scale": {"domain": [0, 6], "range": [1766, 2129], "nice": false, "zero": false}, "axis": null},
            "y": {"datum": -10.435, "type": "quantitative", "scale": {"domain": [-30, -11.5], "range": [1159.5, 325.8], "nice": false, "zero": false}, "axis": null}
          }
        },
        {
          "data": {"name": "rx_ticks"},
          "mark": {"type": "text", "align": "center", "baseline": "middle", "fontSize": 20, "color": "white", "stroke": "white", "strokeWidth": 8},
          "encoding": {
            "x": {"field": "v", "type": "quantitative", "scale": {"domain": [0, 6], "range": [1766, 2129], "nice": false, "zero": false}, "axis": null},
            "y": {"datum": -11.127, "type": "quantitative", "scale": {"domain": [-30, -11.5], "range": [1159.5, 325.8], "nice": false, "zero": false}, "axis": null},
            "text": {"field": "v", "type": "quantitative", "format": "d"}
          }
        },
        {
          "data": {"name": "rx_ticks"},
          "mark": {"type": "text", "align": "center", "baseline": "middle", "fontSize": 20, "color": "black"},
          "encoding": {
            "x": {"field": "v", "type": "quantitative", "scale": {"domain": [0, 6], "range": [1766, 2129], "nice": false, "zero": false}, "axis": null},
            "y": {"datum": -11.127, "type": "quantitative", "scale": {"domain": [-30, -11.5], "range": [1159.5, 325.8], "nice": false, "zero": false}, "axis": null},
            "text": {"field": "v", "type": "quantitative", "format": "d"}
          }
        },
        {
          "data": {"values": [{}]},
          "mark": {"type": "rect", "filled": false, "color": "black", "strokeWidth": 2},
          "encoding": {
            "x": {"datum": 0, "type": "quantitative", "scale": {"domain": [0, 6], "range": [1766, 2129], "nice": false, "zero": false}, "axis": null},
            "x2": {"datum": 6},
            "y": {"datum": -11.5, "type": "quantitative", "scale": {"domain": [-30, -11.5], "range": [1159.5, 325.8], "nice": false, "zero": false},
              "axis": {"orient": "left", "values": [-12.5,-13.5,-14.5,-15.5,-16.5,-17.5,-18.5,-19.5,-20.5,-21.5,-22.5,-23.5,-24.5,-25.5,-26.5,-27.5,-28.5,-29.5], "domain": false, "labels": false, "ticks": false, "grid": true, "gridColor": "#222222", "gridWidth": 1.2, "title": null, "zindex": 1}},
            "y2": {"datum": -30}
          }
        }
      ]
    }
  ],
  "resolve": {"scale": {"x": "independent", "y": "independent", "color": "independent"}}
}
